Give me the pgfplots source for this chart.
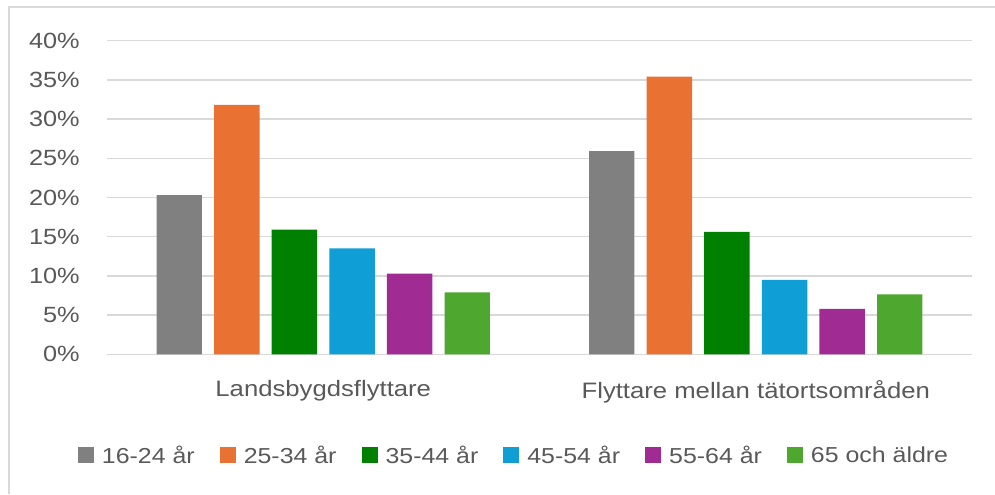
\documentclass[border=0pt]{standalone}
\usepackage{fontspec}
\setmainfont{Liberation Sans}[FakeStretch=1.15]
\usepackage{pgfplots}
\pgfplotsset{compat=1.18}
\definecolor{tcol}{RGB}{89,89,89}
\definecolor{gridc}{RGB}{217,217,217}
\definecolor{cgray}{RGB}{128,128,128}
\definecolor{corange}{RGB}{233,113,50}
\definecolor{cgreen}{RGB}{0,128,0}
\definecolor{cblue}{RGB}{15,158,213}
\definecolor{cpurple}{RGB}{160,43,147}
\definecolor{clgreen}{RGB}{78,167,46}

\begin{document}
\begin{tikzpicture}
\useasboundingbox (0,0) rectangle (746.25pt,370.5pt);
% chart frame, only left and top edges are visible
\draw[gridc, line width=0.8pt] (6.75pt,0) -- (6.75pt,365.25pt) -- (746.25pt,365.25pt);
\begin{axis}[
  at={(80.25pt,104.8pt)}, anchor=south west,
  scale only axis, width=648.75pt, height=235.2pt,
  ybar=9.1pt, bar width=34.1pt,
  xmin=-0.5, xmax=1.5, ymin=0, ymax=40,
  enlargelimits=false,
  xtick={0,1}, xticklabels={Landsbygdsflyttare, Flyttare mellan tätortsområden},
  ytick={0,5,...,40},
  yticklabels={0\%,5\%,10\%,15\%,20\%,25\%,30\%,35\%,40\%},
  major tick length=0pt,
  axis line style={draw=none},
  ymajorgrids=true, grid style={gridc, line width=1pt},
  yticklabel style={font=\fontsize{16.5}{19}\selectfont, text=tcol, inner sep=0pt, anchor=east, xshift=-20.25pt},
  xticklabel style={font=\fontsize{16.75}{20}\selectfont, text=tcol, inner sep=0pt, anchor=north, yshift=-19.5pt},
  legend columns=-1,
  legend style={at={(0.4694,-0.3227)}, anchor=center, draw=none, fill=none,
    font=\fontsize{16.25}{19}\selectfont, text=tcol, inner sep=0pt,
    nodes={inner sep=0pt},
    /tikz/every odd column/.append style={column sep=6pt},
    /tikz/every even column/.append style={column sep=18.75pt}},
  legend image code/.code={\fill[#1] (0pt,-6pt) rectangle (12pt,6pt);},
]
\addplot[fill=cgray, draw=none] coordinates {(0,20.3) (1,25.9)};
\addplot[fill=corange, draw=none] coordinates {(0,31.8) (1,35.4)};
\addplot[fill=cgreen, draw=none] coordinates {(0,15.9) (1,15.6)};
\addplot[fill=cblue, draw=none] coordinates {(0,13.5) (1,9.5)};
\addplot[fill=cpurple, draw=none] coordinates {(0,10.3) (1,5.8)};
\addplot[fill=clgreen, draw=none] coordinates {(0,7.9) (1,7.65)};
\legend{16-24 år, 25-34 år, 35-44 år, 45-54 år, 55-64 år, 65 och äldre}
\end{axis}
\end{tikzpicture}
\end{document}
